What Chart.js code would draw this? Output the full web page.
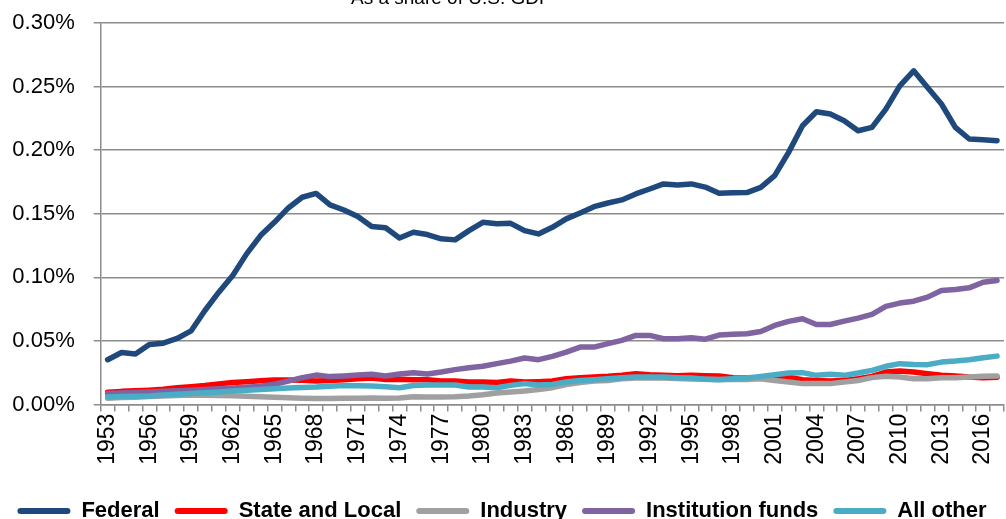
<!DOCTYPE html>
<html>
<head>
<meta charset="utf-8">
<style>
  html, body { margin: 0; padding: 0; background: #fff; overflow: hidden; }
  #wrap { width: 1006px; height: 519px; position: relative; }
</style>
</head>
<body>
<div id="wrap">
  <canvas id="myChart" width="1006" height="519"></canvas>
</div>

<script src="https://cdn.jsdelivr.net/npm/chart.js"></script>
<script>
  // years 1953 - 2017
  const years = [];
  for (let y = 1953; y <= 2017; y++) years.push(String(y));

  // values in percent of GDP
  const federal = [
    0.0353, 0.0410, 0.0398, 0.0472, 0.0483, 0.0520, 0.0579, 0.0740, 0.0884, 0.1015,
    0.1185, 0.1329, 0.1433, 0.1546, 0.1630, 0.1660, 0.1570, 0.1530, 0.1478, 0.1400,
    0.1390, 0.1310, 0.1355, 0.1337, 0.1303, 0.1295, 0.1368, 0.1433, 0.1421, 0.1425,
    0.1368, 0.1342, 0.1394, 0.1460, 0.1507, 0.1556, 0.1585, 0.1609, 0.1656, 0.1695,
    0.1735, 0.1727, 0.1735, 0.1710, 0.1661, 0.1666, 0.1667, 0.1708, 0.1800, 0.1983,
    0.2192, 0.2302, 0.2284, 0.2232, 0.2153, 0.2179, 0.2323, 0.2506, 0.2624, 0.2493,
    0.2363, 0.2179, 0.2088, 0.2082, 0.2075
  ];
  const stateLocal = [
    0.0097, 0.0104, 0.0108, 0.0113, 0.0120, 0.0132, 0.0140, 0.0150, 0.0163, 0.0173,
    0.0180, 0.0188, 0.0193, 0.0194, 0.0192, 0.0186, 0.0190, 0.0196, 0.0204, 0.0209,
    0.0198, 0.0200, 0.0196, 0.0196, 0.0185, 0.0185, 0.0177, 0.0177, 0.0173, 0.0185,
    0.0177, 0.0180, 0.0185, 0.0204, 0.0212, 0.0217, 0.0222, 0.0230, 0.0243, 0.0235,
    0.0230, 0.0227, 0.0230, 0.0227, 0.0225, 0.0212, 0.0210, 0.0212, 0.0217, 0.0215,
    0.0196, 0.0190, 0.0186, 0.0190, 0.0204, 0.0222, 0.0256, 0.0264, 0.0256, 0.0243,
    0.0230, 0.0225, 0.0217, 0.0212, 0.0215
  ];
  const industry = [
    0.0050, 0.0055, 0.0058, 0.0063, 0.0068, 0.0072, 0.0075, 0.0074, 0.0072, 0.0070,
    0.0066, 0.0062, 0.0058, 0.0054, 0.0050, 0.0048, 0.0048, 0.0050, 0.0050, 0.0052,
    0.0050, 0.0052, 0.0062, 0.0060, 0.0060, 0.0062, 0.0068, 0.0078, 0.0091, 0.0099,
    0.0107, 0.0118, 0.0133, 0.0157, 0.0173, 0.0185, 0.0190, 0.0204, 0.0209, 0.0212,
    0.0210, 0.0206, 0.0201, 0.0200, 0.0198, 0.0197, 0.0198, 0.0204, 0.0190, 0.0177,
    0.0165, 0.0165, 0.0165, 0.0177, 0.0190, 0.0212, 0.0222, 0.0217, 0.0204, 0.0204,
    0.0212, 0.0212, 0.0217, 0.0222, 0.0225
  ];
  const institution = [
    0.0088, 0.0092, 0.0096, 0.0100, 0.0104, 0.0108, 0.0113, 0.0118, 0.0124, 0.0130,
    0.0136, 0.0145, 0.0160, 0.0185, 0.0212, 0.0232, 0.0220, 0.0225, 0.0232, 0.0238,
    0.0225, 0.0240, 0.0250, 0.0240, 0.0256, 0.0275, 0.0290, 0.0301, 0.0322, 0.0342,
    0.0366, 0.0353, 0.0379, 0.0413, 0.0452, 0.0452, 0.0479, 0.0505, 0.0544, 0.0544,
    0.0518, 0.0518, 0.0526, 0.0514, 0.0547, 0.0553, 0.0557, 0.0575, 0.0622, 0.0654,
    0.0675, 0.0630, 0.0630, 0.0656, 0.0680, 0.0709, 0.0772, 0.0798, 0.0813, 0.0845,
    0.0897, 0.0905, 0.0918, 0.0962, 0.0976
  ];
  const allOther = [
    0.0060, 0.0063, 0.0065, 0.0068, 0.0075, 0.0081, 0.0088, 0.0094, 0.0100, 0.0107,
    0.0112, 0.0118, 0.0124, 0.0130, 0.0134, 0.0138, 0.0145, 0.0151, 0.0149, 0.0146,
    0.0140, 0.0133, 0.0150, 0.0154, 0.0154, 0.0154, 0.0138, 0.0138, 0.0133, 0.0151,
    0.0165, 0.0154, 0.0159, 0.0177, 0.0190, 0.0196, 0.0204, 0.0212, 0.0217, 0.0217,
    0.0217, 0.0212, 0.0209, 0.0200, 0.0196, 0.0204, 0.0209, 0.0222, 0.0235, 0.0248,
    0.0251, 0.0230, 0.0238, 0.0230, 0.0248, 0.0269, 0.0301, 0.0322, 0.0316, 0.0314,
    0.0334, 0.0342, 0.0353, 0.0369, 0.0381
  ];

  const seriesNames = ['Federal', 'State and Local', 'Industry', 'Institution funds', 'All other'];
  const seriesColors = ['#1f497d', '#ff0000', '#a0a0a0', '#8064a2', '#4bacc6'];
  const seriesData = [federal, stateLocal, industry, institution, allOther];

  const titleText = 'As a share of U.S. GDP';
  const gridColor = '#8c8c8c';

  // title sits mostly above the top edge of the picture
  const clippedTitle = {
    id: 'clippedTitle',
    afterDraw(chart) {
      const ctx = chart.ctx;
      ctx.save();
      ctx.font = '19px "Liberation Sans", Arial, sans-serif';
      ctx.fillStyle = '#000';
      ctx.textAlign = 'left';
      ctx.textBaseline = 'alphabetic';
      ctx.fillText(titleText, 351, 4);
      ctx.restore();
    }
  };

  const datasets = seriesNames.map((name, i) => ({
    label: name,
    data: seriesData[i],
    borderColor: seriesColors[i],
    backgroundColor: seriesColors[i],
    borderWidth: 5.5,
    borderCapStyle: 'round',
    borderJoinStyle: 'round',
    pointRadius: 0,
    tension: 0,
    fill: false,
    order: seriesNames.length - i   // later series drawn on top, like the original
  }));

  const config = {
    type: 'line',
    data: { labels: years, datasets: datasets },
    options: {
      responsive: false,
      animation: false,
      layout: { padding: { top: 23, left: 0, right: 2, bottom: -13 } },
      plugins: {
        title: { display: false },
        tooltip: { enabled: false },
        legend: {
          position: 'bottom',
          labels: {
            boxWidth: 53,
            boxHeight: 6,
            padding: 15,
            color: '#000',
            useBorderRadius: true,
            borderRadius: 3,
            font: { family: '"Liberation Sans", Arial, sans-serif', size: 22, weight: 'bold' },
            sort: (a, b) => a.datasetIndex - b.datasetIndex,
            generateLabels(chart) {
              const items = Chart.defaults.plugins.legend.labels.generateLabels(chart);
              items.forEach(it => { it.lineWidth = 0; });
              return items;
            }
          }
        }
      },
      scales: {
        x: {
          offset: true,
          afterFit(scale) {
            scale.height = 80.4;
            scale.paddingLeft = 0;
            scale.paddingRight = 0;
          },
          grid: {
            offset: true,
            drawOnChartArea: false,
            drawTicks: true,
            tickLength: 7,
            color: gridColor,
            lineWidth: 1.5
          },
          border: { display: true, color: gridColor, width: 1.5 },
          ticks: {
            autoSkip: false,
            maxRotation: 90,
            minRotation: 90,
            padding: 2,
            color: '#000',
            font: { family: '"Liberation Sans", Arial, sans-serif', size: 23 },
            callback: function(value, index) {
              return index % 3 === 0 ? years[index] : '';
            }
          }
        },
        y: {
          min: 0,
          max: 0.30,
          afterFit(scale) {
            scale.width = 100.7;
            scale.paddingTop = 0;
            scale.paddingBottom = 0;
          },
          grid: {
            color: gridColor,
            lineWidth: 1.5,
            drawTicks: true,
            tickLength: 7
          },
          border: { display: true, color: gridColor, width: 1.5 },
          ticks: {
            stepSize: 0.05,
            padding: 19,
            color: '#000',
            font: { family: '"Liberation Sans", Arial, sans-serif', size: 22 },
            callback: v => v.toFixed(2) + '%'
          }
        }
      }
    },
    plugins: [clippedTitle]
  };

  const myChart = new Chart(document.getElementById('myChart'), config);
</script>
</body>
</html>
